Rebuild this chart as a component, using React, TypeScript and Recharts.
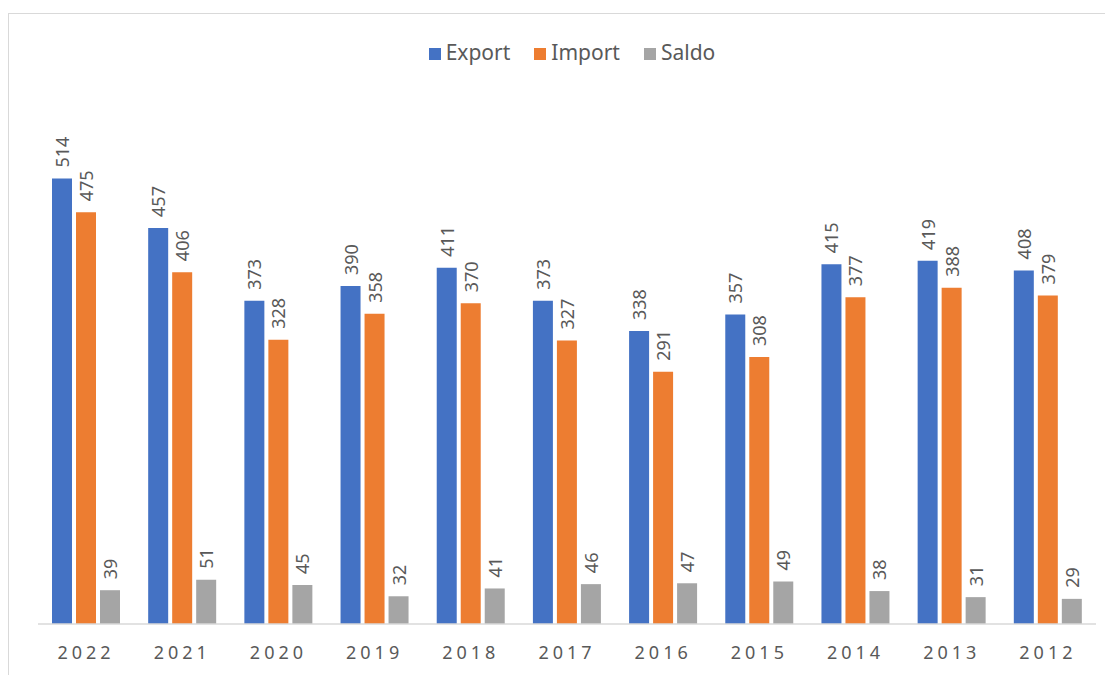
import React from "react";
import { BarChart, Bar, XAxis, YAxis, Legend, LabelList } from "recharts";

const years = ["2022", "2021", "2020", "2019", "2018", "2017", "2016", "2015", "2014", "2013", "2012"];
const exportValues = [514, 457, 373, 390, 411, 373, 338, 357, 415, 419, 408];
const importValues = [475, 406, 328, 358, 370, 327, 291, 308, 377, 388, 379];
const saldoValues = [39, 51, 45, 32, 41, 46, 47, 49, 38, 31, 29];

const data = years.map((year, i) => ({
  year,
  Export: exportValues[i],
  Import: importValues[i],
  Saldo: saldoValues[i],
}));

const FONT = "'Noto Sans', 'Open Sans', sans-serif";
const TEXT = "#595959";

const VerticalLabel = (props: any) => {
  const { x, y, width, value } = props;
  const cx = x + width / 2;
  const cy = y - 11;
  return (
    <text
      x={cx}
      y={cy}
      transform={`rotate(-90, ${cx}, ${cy})`}
      textAnchor="start"
      dominantBaseline="central"
      fill={TEXT}
      fontSize={18}
      fontFamily={FONT}
    >
      {value}
    </text>
  );
};

export default function App() {
  return (
    <div
      style={{
        marginTop: 5,
        width: 1110,
        height: 665,
        border: "1px solid #d9d9d9",
        boxSizing: "border-box",
        background: "#fff",
      }}
    >
      <BarChart
        width={1100}
        height={660}
        data={data}
        margin={{ top: 62, right: 13, bottom: 10, left: 29 }}
        barSize={20}
        barGap={4}
      >
        <Legend
          verticalAlign="top"
          align="center"
          iconType="square"
          iconSize={12}
          wrapperStyle={{ top: 24, left: 46, fontFamily: FONT, fontSize: 21 }}
          formatter={(value: string) => (
            <span style={{ color: TEXT, marginRight: 14, marginLeft: 1 }}>{value}</span>
          )}
        />
        <YAxis hide domain={[0, 600]} />
        <XAxis
          dataKey="year"
          height={40}
          tickLine={false}
          axisLine={{ stroke: "#d9d9d9", strokeWidth: 1.5 }}
          tick={{ fill: TEXT, fontSize: 18, fontFamily: FONT, letterSpacing: 4 }}
          tickMargin={16}
        />
        <Bar dataKey="Export" fill="#4472C4" isAnimationActive={false}>
          <LabelList dataKey="Export" content={VerticalLabel} />
        </Bar>
        <Bar dataKey="Import" fill="#ED7D31" isAnimationActive={false}>
          <LabelList dataKey="Import" content={VerticalLabel} />
        </Bar>
        <Bar dataKey="Saldo" fill="#A5A5A5" isAnimationActive={false}>
          <LabelList dataKey="Saldo" content={VerticalLabel} />
        </Bar>
      </BarChart>
    </div>
  );
}
